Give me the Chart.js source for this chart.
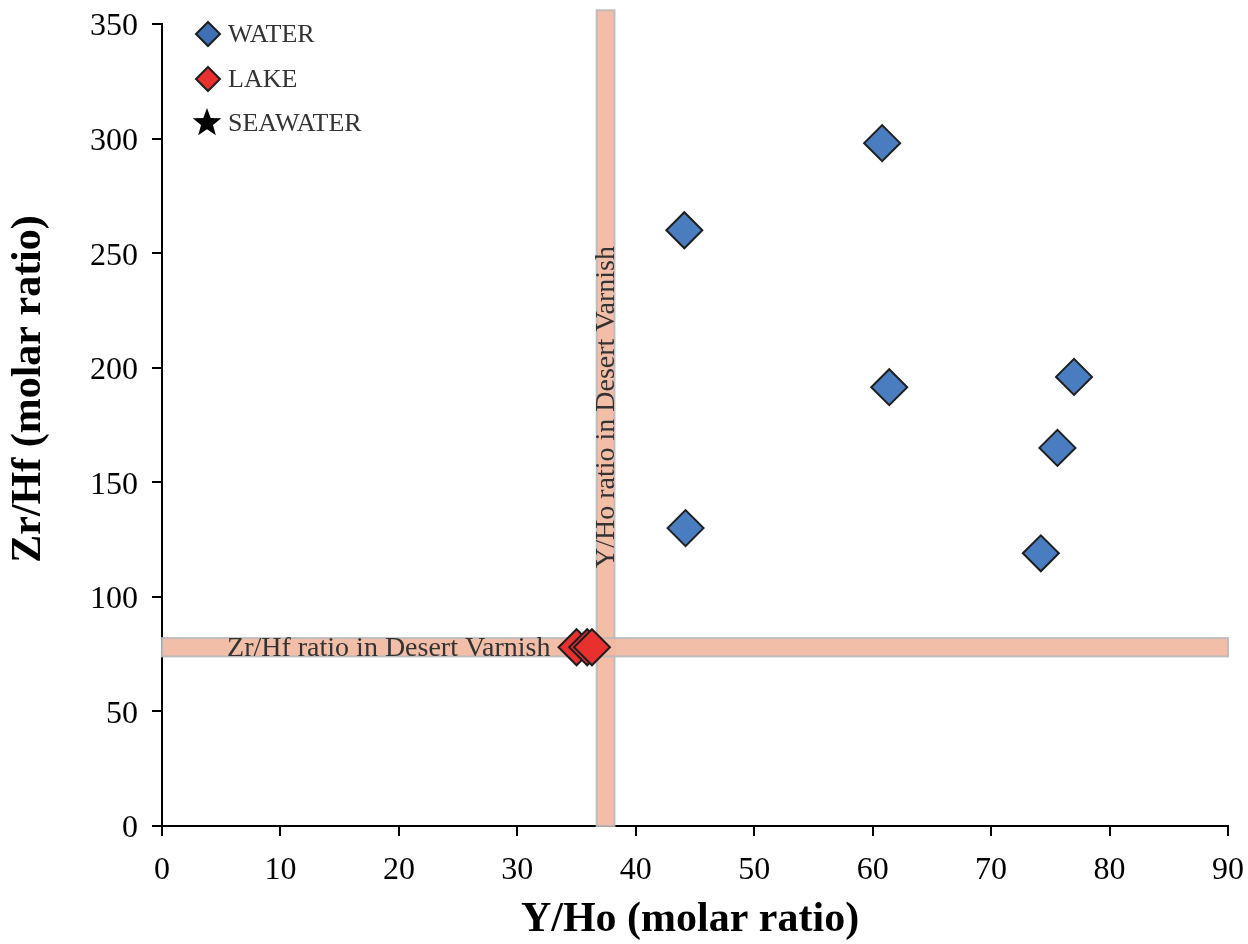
<!DOCTYPE html>
<html>
<head>
<meta charset="utf-8">
<script src="https://cdn.jsdelivr.net/npm/chart.js@4.4.1/dist/chart.umd.min.js"></script>
<style>
  html, body { margin: 0; padding: 0; background: #fff; }
  #wrap { width: 1248px; height: 944px; position: relative; }
</style>
</head>
<body>
<div id="wrap"><canvas id="chart"></canvas></div>
<script>
// --- data ---
const waterYHo  = [60.8, 44.1, 61.4, 77.0, 75.6, 44.2, 74.2];
const waterZrHf = [298, 260, 191.5, 196, 165, 130, 119];
const lakeYHo   = [35.0, 35.9, 36.3];
const lakeZrHf  = [78, 78, 78];
const seawaterYHo  = [];
const seawaterZrHf = [];

const xTicks = [0, 10, 20, 30, 40, 50, 60, 70, 80, 90];
const yTicks = [0, 50, 100, 150, 200, 250, 300, 350];

// desert varnish ranges (shaded bands)
const zrHfBand = [74, 82];
const yHoBand  = [36.7, 38.2];
const yHoBandTop = 356;

const SERIF = '"Liberation Serif", "DejaVu Serif", serif';
const WATER_COLOR = '#4a7cc0';
const LAKE_COLOR = '#e8302e';
const EDGE_COLOR = '#1e1e1e';
const BAND_FILL = 'rgba(242, 184, 160, 0.92)';
const BAND_EDGE = 'rgba(185, 185, 190, 0.9)';

const toPoints = (xs, ys) => xs.map((x, i) => ({ x: x, y: ys[i] }));

// bands + their labels, behind the markers
const bandPlugin = {
    id: 'bands',
    beforeDatasetsDraw(chart) {
        const { ctx, scales: { x, y } } = chart;
        ctx.save();
        ctx.lineWidth = 2;
        ctx.fillStyle = BAND_FILL;
        ctx.strokeStyle = BAND_EDGE;

        // vertical band: Y/Ho
        const vx0 = x.getPixelForValue(yHoBand[0]);
        const vx1 = x.getPixelForValue(yHoBand[1]);
        const vTop = y.getPixelForValue(yHoBandTop);
        const vBot = y.getPixelForValue(0);
        ctx.fillRect(vx0, vTop, vx1 - vx0, vBot - vTop);
        ctx.strokeRect(vx0, vTop, vx1 - vx0, vBot - vTop);

        // horizontal band: Zr/Hf
        const hx0 = x.getPixelForValue(0);
        const hx1 = x.getPixelForValue(90);
        const hy0 = y.getPixelForValue(zrHfBand[1]);
        const hy1 = y.getPixelForValue(zrHfBand[0]);
        ctx.fillRect(hx0, hy0, hx1 - hx0, hy1 - hy0);
        ctx.strokeRect(hx0, hy0, hx1 - hx0, hy1 - hy0);

        // labels
        ctx.fillStyle = '#333';
        ctx.font = '28px ' + SERIF;
        ctx.textBaseline = 'middle';
        ctx.textAlign = 'right';
        ctx.fillText('Zr/Hf ratio in Desert Varnish', x.getPixelForValue(32.8), (hy0 + hy1) / 2 + 1);

        ctx.translate((vx0 + vx1) / 2 + 1, y.getPixelForValue(112.6));
        ctx.rotate(-Math.PI / 2);
        ctx.textAlign = 'left';
        ctx.fillText('Y/Ho ratio in Desert Varnish', 0, 0);
        ctx.restore();
    }
};

const drawDiamond = (ctx, cx, cy, r, fill) => {
    ctx.beginPath();
    ctx.moveTo(cx, cy - r);
    ctx.lineTo(cx + r, cy);
    ctx.lineTo(cx, cy + r);
    ctx.lineTo(cx - r, cy);
    ctx.closePath();
    ctx.fillStyle = fill;
    ctx.fill();
    ctx.lineWidth = 2;
    ctx.strokeStyle = EDGE_COLOR;
    ctx.stroke();
};

const drawStar = (ctx, cx, cy, r) => {
    ctx.beginPath();
    for (let i = 0; i < 10; i++) {
        const rad = i % 2 === 0 ? r : r * 0.42;
        const a = -Math.PI / 2 + i * Math.PI / 5;
        const px = cx + rad * Math.cos(a);
        const py = cy + rad * Math.sin(a);
        if (i === 0) ctx.moveTo(px, py); else ctx.lineTo(px, py);
    }
    ctx.closePath();
    ctx.fillStyle = '#000';
    ctx.fill();
};

// legend, axis titles
const decorPlugin = {
    id: 'decor',
    afterDraw(chart) {
        const { ctx, chartArea } = chart;
        ctx.save();
        const legend = [
            { label: 'WATER', kind: 'diamond', color: '#3f6fb5', cy: 34 },
            { label: 'LAKE', kind: 'diamond', color: LAKE_COLOR, cy: 79 },
            { label: 'SEAWATER', kind: 'star', cy: 123 }
        ];
        ctx.font = '26px ' + SERIF;
        ctx.textBaseline = 'middle';
        ctx.textAlign = 'left';
        legend.forEach((item) => {
            if (item.kind === 'diamond') drawDiamond(ctx, 208, item.cy, 12, item.color);
            else drawStar(ctx, 207, item.cy, 15);
            ctx.fillStyle = '#333';
            ctx.fillText(item.label, 228, item.cy + 1);
        });

        ctx.fillStyle = '#000';
        ctx.font = 'bold 42px ' + SERIF;
        ctx.textAlign = 'center';
        ctx.fillText('Y/Ho (molar ratio)', (chartArea.left + chartArea.right) / 2 - 5, 920);

        ctx.translate(29, 389);
        ctx.rotate(-Math.PI / 2);
        ctx.fillText('Zr/Hf (molar ratio)', 0, 0);
        ctx.restore();
    }
};

const axisCommon = {
    grid: { drawOnChartArea: false, drawTicks: true, tickLength: 10, color: '#000', lineWidth: 2 },
    border: { display: true, color: '#000', width: 2 },
    title: { display: false }
};

new Chart(document.getElementById('chart'), {
    type: 'scatter',
    data: {
        datasets: [
            {
                label: 'WATER',
                data: toPoints(waterYHo, waterZrHf),
                pointStyle: 'rectRot',
                pointRadius: 18,
                pointHoverRadius: 18,
                backgroundColor: WATER_COLOR,
                borderColor: EDGE_COLOR,
                borderWidth: 2
            },
            {
                label: 'LAKE',
                data: toPoints(lakeYHo, lakeZrHf),
                pointStyle: 'rectRot',
                pointRadius: 18,
                pointHoverRadius: 18,
                backgroundColor: LAKE_COLOR,
                borderColor: EDGE_COLOR,
                borderWidth: 2
            },
            {
                label: 'SEAWATER',
                data: toPoints(seawaterYHo, seawaterZrHf),
                pointStyle: 'star',
                backgroundColor: '#000',
                borderColor: '#000'
            }
        ]
    },
    options: {
        responsive: true,
        maintainAspectRatio: false,
        animation: false,
        layout: { padding: { left: 0, top: 24, right: 20, bottom: 0 } },
        plugins: {
            legend: { display: false },
            tooltip: { enabled: false }
        },
        scales: {
            x: {
                ...axisCommon,
                type: 'linear',
                min: 0,
                max: 90,
                afterBuildTicks: (scale) => { scale.ticks = xTicks.map(v => ({ value: v })); },
                afterFit: (scale) => {
                    scale.height = 118;
                    scale.paddingLeft = 0;
                    scale.paddingRight = 0;
                },
                ticks: { color: '#000', font: { family: SERIF, size: 32 }, padding: 15, maxRotation: 0 }
            },
            y: {
                ...axisCommon,
                type: 'linear',
                min: 0,
                max: 350,
                afterBuildTicks: (scale) => { scale.ticks = yTicks.map(v => ({ value: v })); },
                afterFit: (scale) => {
                    scale.width = 162;
                    scale.paddingTop = 0;
                    scale.paddingBottom = 0;
                },
                ticks: { color: '#000', font: { family: SERIF, size: 32 }, padding: 14, labelOffset: 3 }
            }
        }
    },
    plugins: [bandPlugin, decorPlugin]
});
</script>
</body>
</html>
